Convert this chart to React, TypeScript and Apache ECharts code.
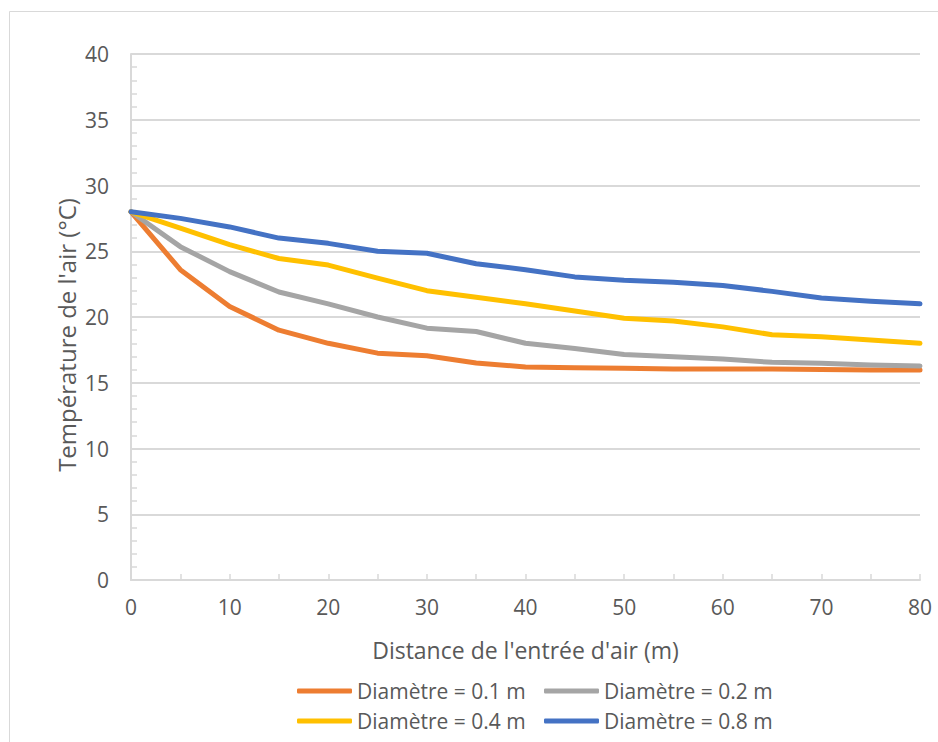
import React, { useEffect, useRef } from "react";
import * as echarts from "echarts";

const distances = [0, 5, 10, 15, 20, 25, 30, 35, 40, 45, 50, 55, 60, 65, 70, 75, 80];
const d01 = [28, 23.6, 20.8, 19.0, 18.0, 17.25, 17.05, 16.5, 16.2, 16.15, 16.1, 16.05, 16.05, 16.05, 16.0, 15.97, 15.97];
const d02 = [28, 25.35, 23.45, 21.9, 21.0, 20.0, 19.15, 18.9, 18.0, 17.6, 17.15, 16.98, 16.8, 16.55, 16.48, 16.35, 16.27];
const d04 = [28, 26.75, 25.5, 24.45, 23.95, 22.95, 22.0, 21.5, 21.0, 20.45, 19.9, 19.7, 19.25, 18.65, 18.5, 18.25, 18.0];
const d08 = [28, 27.5, 26.85, 26.0, 25.6, 25.0, 24.85, 24.05, 23.6, 23.05, 22.8, 22.65, 22.4, 21.95, 21.45, 21.2, 21.0];

const seriesNames = ["Diamètre = 0.1 m", "Diamètre = 0.2 m", "Diamètre = 0.4 m", "Diamètre = 0.8 m"];
const seriesValues = [d01, d02, d04, d08];
const colors = ["#ED7D31", "#A5A5A5", "#FFC000", "#4472C4"];
const yTitle = "Température de l'air (°C)";
const xTitle = "Distance de l'entrée d'air (m)";

const FONT = "Open Sans";
const TXT = "#595959";
const AX = "#D9D9D9";

export default function App() {
  const ref = useRef<HTMLDivElement>(null);
  useEffect(() => {
    if (!ref.current) return;
    const chart = echarts.init(ref.current, null, { renderer: "svg" });
    const legendPos = [
      { left: 297, top: 679 },
      { left: 544, top: 679 },
      { left: 297, top: 709 },
      { left: 544, top: 709 },
    ];
    chart.setOption({
      animation: false,
      backgroundColor: "#ffffff",
      textStyle: { fontFamily: FONT },
      graphic: [
        {
          type: "rect",
          shape: { x: 9.5, y: 11.5, width: 940, height: 740 },
          style: { fill: "none", stroke: AX, lineWidth: 1 },
          silent: true,
        },
        {
          type: "text",
          x: 66,
          y: 335,
          rotation: Math.PI / 2,
          style: {
            text: yTitle,
            fontFamily: FONT,
            fontSize: 24,
            fill: TXT,
            align: "center",
            verticalAlign: "middle",
          },
          silent: true,
        },
      ],
      grid: { left: 131, right: 18, top: 54, bottom: 162 },
      legend: seriesNames.map((n, i) => ({
        data: [n],
        left: legendPos[i].left,
        top: legendPos[i].top,
        icon: "roundRect",
        itemWidth: 55,
        itemHeight: 5,
        itemGap: 0,
        padding: 0,
        textStyle: { fontFamily: FONT, fontSize: 21, color: TXT, lineHeight: 24, padding: [0, 0, 0, 0] },
        selectedMode: false,
      })),
      xAxis: {
        type: "value",
        min: 0,
        max: 80,
        interval: 10,
        name: xTitle,
        nameLocation: "middle",
        nameGap: 58,
        nameTextStyle: { fontFamily: FONT, fontSize: 23, color: TXT },
        axisLine: { show: true, lineStyle: { color: AX, width: 2 } },
        axisTick: { show: true, inside: true, length: 6, lineStyle: { color: AX, width: 1.5 } },
        minorTick: { show: true, splitNumber: 2, length: 6, lineStyle: { color: AX, width: 1.5 } },
        axisLabel: { fontFamily: FONT, fontSize: 21, color: TXT, margin: 16 },
        splitLine: { show: false },
      },
      yAxis: {
        type: "value",
        min: 0,
        max: 40,
        interval: 5,
        axisLine: { show: true, lineStyle: { color: AX, width: 2 } },
        axisTick: { show: true, inside: true, length: 6, lineStyle: { color: AX, width: 1.5 } },
        minorTick: { show: true, splitNumber: 5, length: 6, lineStyle: { color: AX, width: 1.5 } },
        axisLabel: { fontFamily: FONT, fontSize: 21, color: TXT, margin: 22 },
        splitLine: { show: true, lineStyle: { color: AX, width: 2 } },
      },
      series: seriesValues.map((vals, i) => ({
        name: seriesNames[i],
        type: "line",
        data: distances.map((d, j) => [d, vals[j]]),
        showSymbol: false,
        symbol: "none",
        color: colors[i],
        lineStyle: { color: colors[i], width: 5, cap: "round", join: "round" },
        z: 2 + i,
      })),
    });
    return () => chart.dispose();
  }, []);
  return (
    <div
      ref={ref}
      style={{ position: "fixed", left: 0, top: 0, width: 938, height: 742, background: "#fff" }}
    />
  );
}
